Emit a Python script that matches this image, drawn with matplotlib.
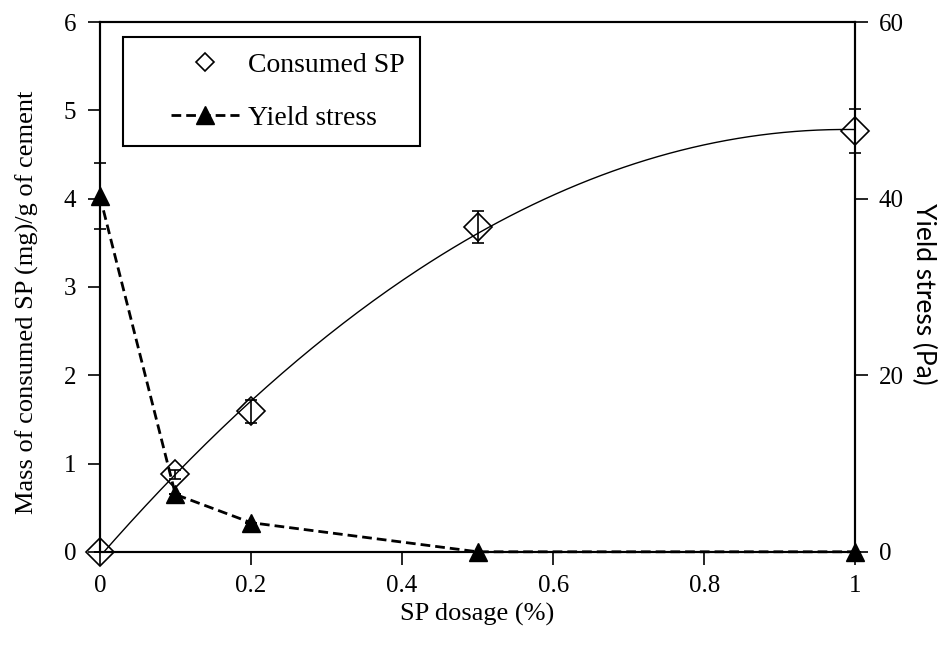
import matplotlib.pyplot as plt
import numpy as np
from matplotlib.lines import Line2D
from matplotlib.legend_handler import HandlerLine2D

# data
dosage = [0, 0.1, 0.2, 0.5, 1.0]
consumed_sp = [0.0, 0.88, 1.59, 3.68, 4.77]
consumed_err = [0.0, 0.05, 0.13, 0.18, 0.25]
yield_stress = [40.3, 6.5, 3.3, 0.0, 0.0]
yield_err = [3.7, 0.0, 0.0, 0.0, 0.0]

serif = ["Liberation Serif", "DejaVu Serif"]
plt.rcParams["font.family"] = serif
plt.rcParams["font.size"] = 18

fig = plt.figure(figsize=(9.42, 6.53), dpi=100)
ax = fig.add_axes([0.106, 0.155, 0.802, 0.811])
ax2 = ax.twinx()

# quadratic trend line through the consumed SP points
coef = np.polyfit(dosage, consumed_sp, 2)
xs = np.linspace(0, 1, 200)
ax.plot(xs, np.polyval(coef, xs), color="black", lw=1, zorder=2)

ax.errorbar(dosage, consumed_sp, yerr=consumed_err, fmt="D", ms=14,
            mfc="none", mec="black", mew=1.2, ecolor="black", elinewidth=1.2,
            capsize=4, capthick=1.2, zorder=3, clip_on=False)

dash = (0, (3.5, 1.8))
ax2.errorbar(dosage, yield_stress, yerr=yield_err, fmt="^", ls=dash,
             color="black", ms=13, lw=2, ecolor="black", elinewidth=1.2,
             capsize=4, capthick=1.2, zorder=4, clip_on=False)

ax.set_xlim(0, 1)
ax.set_ylim(0, 6)
ax2.set_ylim(0, 60)
ax.set_xticks([0, 0.2, 0.4, 0.6, 0.8, 1])
ax.set_xticklabels(["0", "0.2", "0.4", "0.6", "0.8", "1"])
ax.set_yticks(range(0, 7))
ax2.set_yticks([0, 20, 40, 60])

for a in (ax, ax2):
    a.tick_params(direction="out", length=9, width=1.2, pad=8)
    for s in a.spines.values():
        s.set_linewidth(1.5)

ax.set_xlabel("SP dosage (%)", fontsize=19, labelpad=4)
ax.set_ylabel("Mass of consumed SP (mg)/g of cement", fontsize=19)
ax.yaxis.set_label_coords(-0.08, 0.472)
ax2.set_ylabel("Yield stress (Pa)", rotation=-90,
               family=["Lato", "DejaVu Sans"], fontsize=19)
ax2.yaxis.label.set_va("center")
ax2.yaxis.label.set_ha("center")
ax2.yaxis.set_label_coords(1.09, 0.487)

handles = [
    Line2D([], [], ls="none", marker="D", ms=9, mfc="none", mec="black", mew=1.2),
    Line2D([], [], ls=dash, lw=2, color="black", marker="^", ms=13),
]
leg = ax.legend(handles, ["Consumed SP", "Yield stress"], loc="upper left",
                bbox_to_anchor=(0.030, 0.972), borderaxespad=0, fancybox=False,
                framealpha=1, edgecolor="black", handlelength=3.65,
                handletextpad=0.3, borderpad=0.55, labelspacing=1.0,
                fontsize=20, handler_map={Line2D: HandlerLine2D(xpad=1.2)})
leg.get_frame().set_linewidth(1.5)

fig.savefig("out.png", dpi=100)
